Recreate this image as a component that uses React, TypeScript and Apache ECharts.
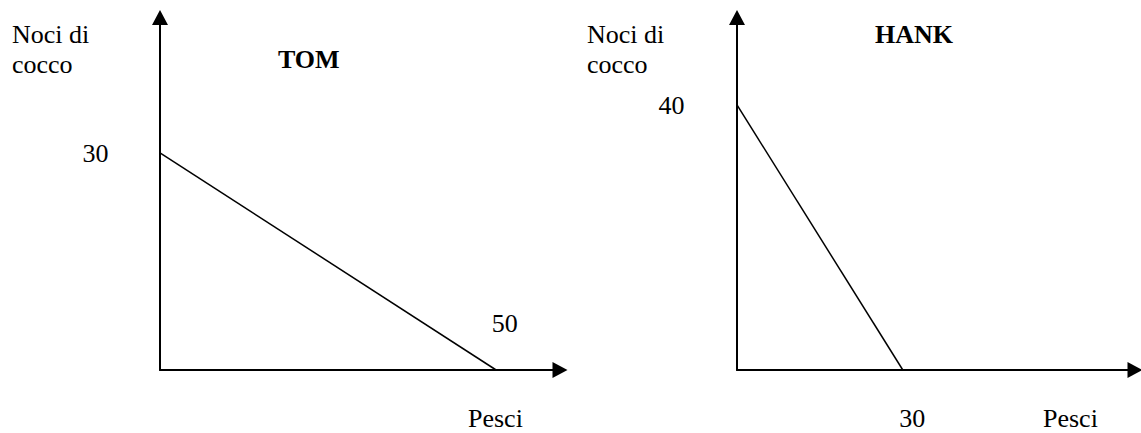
import React, { useEffect, useRef } from "react";
import * as echarts from "echarts";

// Production possibility frontiers (fish on x, coconuts on y)
const tomFish = [0, 50];
const tomCoconuts = [30, 0];
const hankFish = [0, 30];
const hankCoconuts = [40, 0];

const titles = ["TOM", "HANK"];
const yAxisName = ["Noci di", "cocco"];
const xAxisName = "Pesci";

const FONT = "Liberation Serif";
const FS = 26;

export default function App() {
  const ref = useRef<HTMLDivElement>(null);
  useEffect(() => {
    if (!ref.current) return;
    const chart = echarts.init(ref.current, undefined, { renderer: "svg" });

    const axisLine = {
      show: true,
      onZero: false,
      symbol: ["none", "triangle"],
      symbolSize: [16, 15],
      lineStyle: { color: "#000", width: 2 },
    };
    const baseAxis = {
      type: "value" as const,
      min: 0,
      axisLine,
      axisTick: { show: false },
      axisLabel: { show: false },
      splitLine: { show: false },
    };

    const txt = (text: string, x: number, y: number, bold = false) => ({
      type: "text",
      x,
      y,
      style: {
        text,
        fill: "#000",
        fontFamily: FONT,
        fontSize: FS,
        fontWeight: bold ? "bold" : "normal",
        align: "left",
        verticalAlign: "middle",
      },
    });

    const labelStyle = { color: "#000", fontFamily: FONT, fontSize: FS };

    chart.setOption({
      animation: false,
      backgroundColor: "#fff",
      textStyle: { fontFamily: FONT },
      grid: [
        { left: 160, top: 17.5, width: 400, bottom: 63 },
        { left: 737, top: 17.5, width: 398, bottom: 63 },
      ],
      xAxis: [
        { ...baseAxis, gridIndex: 0, max: 59.5 },
        { ...baseAxis, gridIndex: 1, max: 72 },
      ],
      yAxis: [
        { ...baseAxis, gridIndex: 0, max: 48.7 },
        { ...baseAxis, gridIndex: 1, max: 53.2 },
      ],
      series: [
        {
          type: "line",
          xAxisIndex: 0,
          yAxisIndex: 0,
          data: [
            { value: [tomFish[0], tomCoconuts[0]], label: { offset: [-64.5, 1] } },
            { value: [tomFish[1], tomCoconuts[1]], label: { offset: [8.5, -47] } },
          ],
          symbol: "circle",
          symbolSize: 1,
          itemStyle: { color: "#000" },
          lineStyle: { color: "#000", width: 1.5 },
          label: {
            show: true,
            position: "inside",
            ...labelStyle,
            formatter: (p: any) =>
              p.dataIndex === 0 ? String(tomCoconuts[0]) : String(tomFish[1]),
          },
        },
        {
          type: "line",
          xAxisIndex: 1,
          yAxisIndex: 1,
          data: [
            { value: [hankFish[0], hankCoconuts[0]], label: { offset: [-65.5, 1] } },
            { value: [hankFish[1], hankCoconuts[1]], label: { offset: [9.5, 48] } },
          ],
          symbol: "circle",
          symbolSize: 1,
          itemStyle: { color: "#000" },
          lineStyle: { color: "#000", width: 1.5 },
          label: {
            show: true,
            position: "inside",
            ...labelStyle,
            formatter: (p: any) =>
              p.dataIndex === 0 ? String(hankCoconuts[0]) : String(hankFish[1]),
          },
        },
      ],
      graphic: [
        txt(yAxisName[0], 12, 34),
        txt(yAxisName[1], 12, 64),
        txt(titles[0], 278, 59, true),
        txt(xAxisName, 468, 418),
        txt(yAxisName[0], 587, 34),
        txt(yAxisName[1], 587, 64),
        txt(titles[1], 875, 34, true),
        txt(xAxisName, 1043, 418),
      ],
    });

    return () => chart.dispose();
  }, []);
  return (
    <div
      ref={ref}
      style={{ position: "absolute", left: 0, top: 0, width: 1141, height: 433 }}
    />
  );
}
